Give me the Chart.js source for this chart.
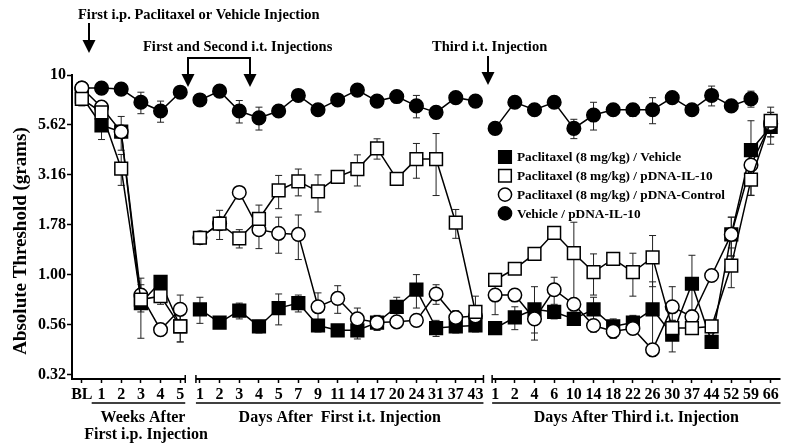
<!DOCTYPE html>
<html>
<head>
<meta charset="utf-8">
<script src="https://cdn.jsdelivr.net/npm/chart.js@4.4.1/dist/chart.umd.min.js"></script>
<style>
  html, body { margin: 0; padding: 0; background: #fff; }
  #wrap { width: 791px; height: 443px; position: relative; }
</style>
</head>
<body>
<div id="wrap"><canvas id="chart" width="791" height="443"></canvas></div>
<script>
// x categories: weeks after i.p., days after first i.t., days after third i.t.
const xLabels = ['BL', '1', '2', '3', '4', '5',
    '1', '2', '3', '4', '5', '7', '9', '11', '14', '17', '20', '24', '31', '37', '43',
    '1', '2', '4', '6', '10', '14', '18', '22', '26', '30', '37', '44', '52', '59', '66'];
const segmentEnds = [5, 20]; // last index of each of the first two segments

const yTicks = [0.316, 0.562, 1.0, 1.778, 3.162, 5.623, 10];
const yTickLabels = ['0.32', '0.56', '1.00', '1.78', '3.16', '5.62', '10'];

// Paclitaxel (8 mg/kg) / Vehicle
const paxVehicle = [7.8, 5.6, 5.2, 0.72, 0.92, 0.55,
    0.67, 0.575, 0.66, 0.55, 0.68, 0.72, 0.556, 0.526, 0.526, 0.575, 0.69, 0.84, 0.54, 0.55, 0.556,
    0.54, 0.61, 0.67, 0.65, 0.60, 0.67, 0.55, 0.575, 0.67, 0.50, 0.90, 0.46, 1.59, 4.2, 5.5];
const paxVehicleErr = [0.5, 0.85, 1.0, 0.24, 0.06, 0.09,
    0.1, 0.03, 0.06, 0.04, 0.12, 0.07, 0.04, 0.03, 0.05, 0.04, 0.08, 0.16, 0.05, 0.04, 0.04,
    0.03, 0.08, 0.2, 0.05, 0.04, 0.1, 0.05, 0.05, 0.25, 0.09, 0.35, 0.03, 0.35, 1.7, 1.0];

// Paclitaxel (8 mg/kg) / pDNA-IL-10
const paxIL10 = [7.6, 6.5, 3.4, 0.75, 0.78, 0.55,
    1.53, 1.80, 1.52, 1.90, 2.64, 2.93, 2.61, 3.09, 3.38, 4.29, 3.02, 3.79, 3.79, 1.82, 0.65,
    0.94, 1.07, 1.27, 1.62, 1.28, 1.03, 1.20, 1.03, 1.22, 0.54, 0.54, 0.55, 1.11, 2.99, 5.9];
const paxIL10Err = [0.6, 0.5, 0.6, 0.1, 0.07, 0.09,
    0.05, 0.3, 0.16, 0.33, 0.5, 0.45, 0.55, 0.1, 0.6, 0.5, 0.1, 0.75, 1.3, 0.3, 0.13,
    0.05, 0.05, 0.05, 0.1, 0.55, 0.24, 0.08, 0.25, 0.35, 0.05, 0.03, 0.04, 0.25, 0.5, 1.0];

// Paclitaxel (8 mg/kg) / pDNA-Control
const paxControl = [8.6, 6.9, 5.2, 0.79, 0.53, 0.67,
    1.53, 1.80, 2.58, 1.68, 1.61, 1.59, 0.69, 0.76, 0.60, 0.575, 0.58, 0.59, 0.80, 0.61, 0.62,
    0.79, 0.79, 0.60, 0.84, 0.71, 0.556, 0.52, 0.537, 0.42, 0.69, 0.615, 0.99, 1.59, 3.54, 5.7];
const paxControlErr = [0.3, 0.4, 0.3, 0.1, 0.03, 0.12,
    0.05, 0.1, 0.15, 0.33, 0.33, 0.4, 0.12, 0.12, 0.08, 0.05, 0.03, 0.04, 0.09, 0.05, 0.04,
    0.16, 0.05, 0.09, 0.13, 0.05, 0.04, 0.04, 0.03, 0.03, 0.18, 0.05, 0.05, 0.35, 0.5, 0.8];

// Vehicle / pDNA-IL-10
const vehIL10 = [8.6, 8.6, 8.5, 7.3, 6.6, 8.2,
    7.5, 8.3, 6.6, 6.1, 6.6, 7.9, 6.7, 7.5, 8.4, 7.4, 7.8, 7.0, 6.5, 7.7, 7.4,
    5.4, 7.3, 6.7, 7.3, 5.4, 6.3, 6.7, 6.7, 6.7, 7.7, 6.7, 7.9, 7.0, 7.6, null];
const vehIL10Err = [0.3, 0.3, 0.3, 0.9, 0.8, 0.3,
    0.3, 0.3, 0.85, 0.8, 0.3, 0.3, 0.3, 0.3, 0.3, 0.3, 0.3, 0.9, 0.3, 0.3, 0.3,
    0.3, 0.3, 0.3, 0.3, 0.6, 1.0, 0.3, 0.5, 1.0, 0.3, 0.3, 0.9, 0.3, 0.7, null];

const FONT = "'Liberation Serif', 'Times New Roman', serif";

// build one line dataset
function series(label, data, err, style, filled, order) {
    return {
        label: label,
        data: data,
        err: err,
        order: order,
        borderColor: '#000',
        borderWidth: 1.5,
        backgroundColor: filled ? '#000' : '#fff',
        pointBackgroundColor: filled ? '#000' : '#fff',
        pointBorderColor: '#000',
        pointBorderWidth: 1.5,
        pointStyle: style,
        pointRadius: style === 'rect' ? 9 : 6.8,
        pointHoverRadius: style === 'rect' ? 9 : 6.8,
        spanGaps: false,
        segment: {
            borderColor: ctx => segmentEnds.includes(ctx.p0DataIndex) ? 'rgba(0,0,0,0)' : '#000'
        }
    };
}

const datasets = [
    series('Paclitaxel (8 mg/kg) / pDNA-IL-10', paxIL10, paxIL10Err, 'rect', false, 0),
    series('Paclitaxel (8 mg/kg) / pDNA-Control', paxControl, paxControlErr, 'circle', false, 1),
    series('Paclitaxel (8 mg/kg) / Vehicle', paxVehicle, paxVehicleErr, 'rect', true, 2),
    series('Vehicle / pDNA-IL-10', vehIL10, vehIL10Err, 'circle', true, 3)
];

// legend rows in the order shown in the picture
const legendItems = [
    { text: 'Paclitaxel (8 mg/kg) / Vehicle', style: 'rect', filled: true },
    { text: 'Paclitaxel (8 mg/kg) / pDNA-IL-10', style: 'rect', filled: false },
    { text: 'Paclitaxel (8 mg/kg) / pDNA-Control', style: 'circle', filled: false },
    { text: 'Vehicle / pDNA-IL-10', style: 'circle', filled: true }
];

// error bars, drawn under the markers
const errorBars = {
    id: 'errorBars',
    beforeDatasetsDraw(chart) {
        const ctx = chart.ctx;
        const x = chart.scales.x;
        const y = chart.scales.y;
        ctx.save();
        ctx.strokeStyle = '#222';
        ctx.lineWidth = 1;
        chart.data.datasets.forEach(ds => {
            ds.data.forEach((v, i) => {
                const e = ds.err[i];
                if (v == null || !e) return;
                const px = x.getPixelForValue(i);
                const top = y.getPixelForValue(v + e);
                const bot = y.getPixelForValue(Math.max(v - e, 0.33));
                ctx.beginPath();
                ctx.moveTo(px, top); ctx.lineTo(px, bot);
                ctx.moveTo(px - 3.5, top); ctx.lineTo(px + 3.5, top);
                ctx.moveTo(px - 3.5, bot); ctx.lineTo(px + 3.5, bot);
                ctx.stroke();
            });
        });
        ctx.restore();
    }
};

function arrow(ctx, x, y1, y2) {
    ctx.beginPath();
    ctx.moveTo(x, y1);
    ctx.lineTo(x, y2 - 10);
    ctx.stroke();
    ctx.beginPath();
    ctx.moveTo(x - 6.5, y2 - 13);
    ctx.lineTo(x + 6.5, y2 - 13);
    ctx.lineTo(x, y2);
    ctx.closePath();
    ctx.fill();
}

function marker(ctx, style, filled, x, y) {
    ctx.beginPath();
    if (style === 'rect') {
        ctx.rect(x - 6.3, y - 6.3, 12.6, 12.6);
    } else {
        ctx.arc(x, y, 6.6, 0, Math.PI * 2);
    }
    ctx.fillStyle = filled ? '#000' : '#fff';
    ctx.fill();
    ctx.lineWidth = 1.5;
    ctx.strokeStyle = '#000';
    ctx.stroke();
}

// broken x axis, group captions, y title, arrows and legend
const decorations = {
    id: 'decorations',
    afterDraw(chart) {
        const ctx = chart.ctx;
        const x = chart.scales.x;
        const area = chart.chartArea;
        const yb = area.bottom;
        ctx.save();
        ctx.strokeStyle = '#000';
        ctx.fillStyle = '#000';

        // axis segments with end caps at the breaks
        const half = (x.getPixelForValue(1) - x.getPixelForValue(0)) / 2;
        const segs = [
            [area.left, x.getPixelForValue(5) + 5],
            [x.getPixelForValue(6) - 4, x.getPixelForValue(20) + 8],
            [x.getPixelForValue(21) - 3, area.right]
        ];
        ctx.lineWidth = 2;
        segs.forEach((s, i) => {
            ctx.beginPath();
            ctx.moveTo(s[0], yb); ctx.lineTo(s[1], yb);
            ctx.stroke();
            ctx.lineWidth = 1.5;
            ctx.beginPath();
            if (i > 0) { ctx.moveTo(s[0], yb - 4); ctx.lineTo(s[0], yb + 4); }
            if (i < 2) { ctx.moveTo(s[1], yb - 4); ctx.lineTo(s[1], yb + 4); }
            ctx.stroke();
            ctx.lineWidth = 2;
        });

        // group underlines
        const uy = 403;
        const under = [
            [x.getPixelForValue(1) - half, segs[0][1]],
            [segs[1][0], segs[1][1]],
            [segs[2][0], area.right]
        ];
        ctx.lineWidth = 1.5;
        under.forEach(u => {
            ctx.beginPath();
            ctx.moveTo(u[0], uy); ctx.lineTo(u[1], uy);
            ctx.stroke();
        });

        ctx.font = 'bold 16px ' + FONT;
        ctx.textAlign = 'center';
        ctx.textBaseline = 'middle';
        ctx.fillText('Weeks After', 143, 418);
        ctx.fillText('First i.p. Injection', 146, 435);
        ctx.fillText('Days After  First i.t. Injection', (under[1][0] + under[1][1]) / 2, 418);
        ctx.fillText('Days After Third i.t. Injection', (under[2][0] + under[2][1]) / 2, 418);

        // y axis title
        ctx.save();
        ctx.translate(21, 241);
        ctx.rotate(-Math.PI / 2);
        ctx.font = 'bold 19px ' + FONT;
        ctx.fillText('Absolute Threshold (grams)', 0, 0);
        ctx.restore();

        // injection annotations
        ctx.font = 'bold 14.5px ' + FONT;
        ctx.textAlign = 'left';
        ctx.fillText('First i.p. Paclitaxel or Vehicle Injection', 78, 15);
        ctx.fillText('First and Second i.t. Injections', 143, 47);
        ctx.fillText('Third i.t. Injection', 432, 47);

        ctx.lineWidth = 2;
        arrow(ctx, 89, 23, 53);
        ctx.beginPath();
        ctx.moveTo(188, 58); ctx.lineTo(250, 58);
        ctx.stroke();
        arrow(ctx, 188, 57, 87);
        arrow(ctx, 250, 57, 87);
        arrow(ctx, 488, 56, 85);

        // legend
        ctx.font = 'bold 13.3px ' + FONT;
        legendItems.forEach((item, i) => {
            const ly = 157 + i * 18.8;
            marker(ctx, item.style, item.filled, 505, ly);
            ctx.fillStyle = '#000';
            ctx.textAlign = 'left';
            ctx.textBaseline = 'middle';
            ctx.fillText(item.text, 517, ly + 1);
        });
        ctx.restore();
    }
};

new Chart(document.getElementById('chart'), {
    type: 'line',
    data: { labels: xLabels, datasets: datasets },
    options: {
        responsive: false,
        animation: false,
        events: [],
        layout: { padding: { top: 75, right: 1, left: 0, bottom: 0 } },
        plugins: {
            legend: { display: false },
            tooltip: { enabled: false }
        },
        scales: {
            x: {
                type: 'category',
                offset: true,
                afterFit: scale => { scale.height = 443 - 379; },
                border: { display: false },
                grid: {
                    offset: false,
                    drawOnChartArea: false,
                    drawTicks: true,
                    tickLength: 4,
                    tickWidth: 1.5,
                    tickColor: '#000'
                },
                ticks: {
                    autoSkip: false,
                    maxRotation: 0,
                    padding: 2,
                    color: '#000',
                    font: { family: FONT, size: 16, weight: 'bold' }
                }
            },
            y: {
                type: 'logarithmic',
                min: yTicks[0],
                max: 10,
                afterFit: scale => { scale.width = 72; },
                afterBuildTicks: scale => {
                    scale.ticks = yTicks.map(v => ({ value: v }));
                },
                border: { display: true, color: '#000', width: 2 },
                grid: {
                    drawOnChartArea: false,
                    drawTicks: true,
                    tickLength: 5,
                    tickWidth: 1.5,
                    tickColor: '#000'
                },
                ticks: {
                    padding: 1,
                    color: '#000',
                    font: { family: FONT, size: 16, weight: 'bold' },
                    callback: (value, index) => yTickLabels[index]
                },
                title: { display: false }
            }
        }
    },
    plugins: [errorBars, decorations]
});
</script>
</body>
</html>
